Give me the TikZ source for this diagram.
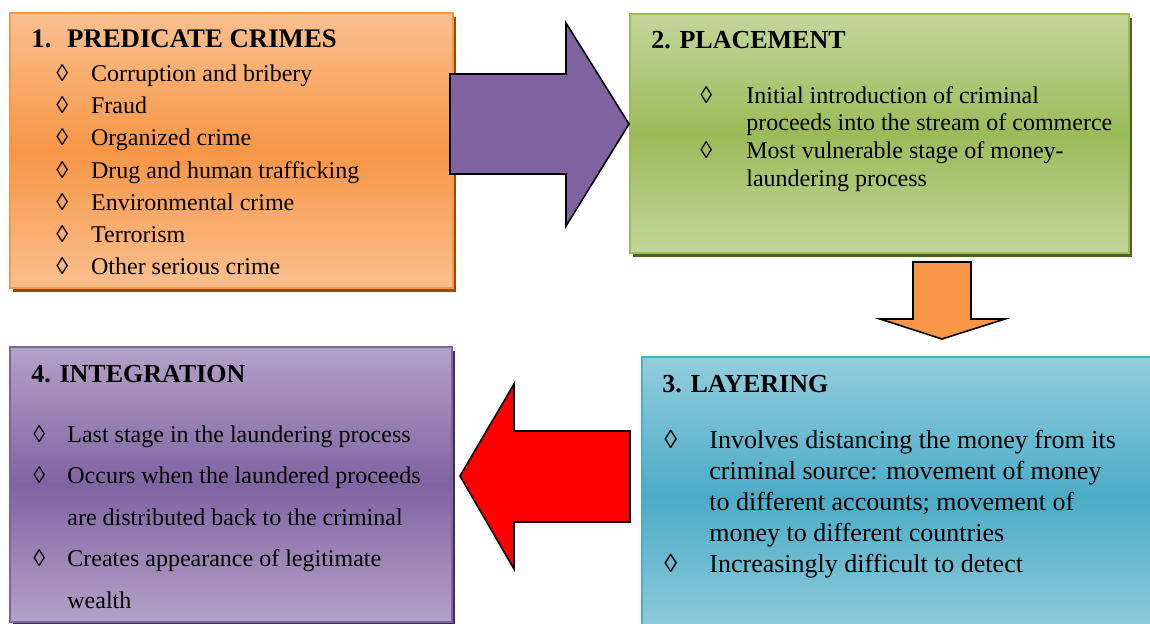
\documentclass[tikz,border=0pt]{standalone}
\usepackage{fontspec}
\setmainfont{Liberation Serif}
\usetikzlibrary{positioning}

\definecolor{orangeA}{HTML}{FAC090}
\definecolor{orangeB}{HTML}{F79646}
\definecolor{orangeD}{HTML}{984807}
\definecolor{greenA}{HTML}{C3D69B}
\definecolor{greenB}{HTML}{9BBB59}
\definecolor{greenD}{HTML}{4F6228}
\definecolor{blueA}{HTML}{93CDDD}
\definecolor{blueB}{HTML}{4BACC6}
\definecolor{blueD}{HTML}{215968}
\definecolor{purpleA}{HTML}{B3A2C7}
\definecolor{purpleB}{HTML}{8064A2}
\definecolor{purpleD}{HTML}{403152}

\begin{document}
\begin{tikzpicture}[x=0.5pt,y=-0.5pt,
	box/.style={rectangle,anchor=north west,inner sep=0pt,line width=1pt},
	head/.style={anchor=base west,inner sep=0pt,font=\fontsize{13}{15}\selectfont\bfseries},
	item/.style={anchor=base west,inner sep=0pt,font=\fontsize{12}{14}\selectfont},
	bigitem/.style={anchor=base west,inner sep=0pt,font=\fontsize{13}{15}\selectfont},
	blockarrow/.style={draw=black,line width=0.8pt,line join=miter},
	]

	\useasboundingbox (0,0) rectangle (1150,623);
	\clip (0,0) rectangle (1150,623);

	% shadows
	\fill[orangeD] (13,17) rectangle (456,292);
	\fill[greenD] (633,18) rectangle (1132,257);
	\fill[blueD] (645,361) rectangle (1170,640);
	\fill[purpleD] (13,351) rectangle (455,640);

	% boxes
	\node[box,draw=orangeB,top color=orangeA,bottom color=orangeA,middle color=orangeB,
		minimum width=221.5pt,minimum height=137.5pt] (crimes) at (9,12) {};
	\node[box,draw=greenB,top color=greenA,bottom color=greenA,middle color=greenB,
		minimum width=249.5pt,minimum height=119.5pt] (placement) at (629,13) {};
	\node[box,draw=blueB,top color=blueA,bottom color=blueA,middle color=blueB,
		minimum width=262pt,minimum height=140pt] (layering) at (641,356) {};
	\node[box,draw=purpleB,top color=purpleA,bottom color=purpleA,middle color=purpleB,
		minimum width=221pt,minimum height=137.5pt] (integration) at (9,346) {};

	% block arrows
	\draw[blockarrow,fill=purpleB] (450,74) -- (566,74) -- (566,23) -- (629,124)
		-- (566,226) -- (566,174) -- (450,174) -- cycle;
	\draw[blockarrow,fill=orangeB] (913,262) -- (971,262) -- (971,319) -- (1005,319)
		-- (942,339) -- (880,319) -- (913,319) -- cycle;
	\draw[blockarrow,fill=red] (630,431) -- (514,431) -- (514,384) -- (460,476)
		-- (514,569) -- (514,522) -- (630,522) -- cycle;

	% 1. predicate crimes
	\node[head,font=\fontsize{13.4}{15}\selectfont\bfseries] (crimestitle) at (31,47.7)
		{\makebox[17.85pt][l]{1.}PREDICATE CRIMES};
	\foreach \txt [count=\i] in {Corruption and bribery,Fraud,Organized crime,
		Drug and human trafficking,Environmental crime,Terrorism,Other serious crime} {
		\node[item] (crimedot\i) at (56,49.6+32.1*\i) {◊};
		\node[item] (crime\i) at (90.7,49.6+32.1*\i) {\txt};
	}

	% 2. placement
	\node[head] (placementtitle) at (651,48) {2. PLACEMENT};
	\node[item] (placedot1) at (700,103) {◊};
	\node[item] (place1) at (746,103) {Initial introduction of criminal};
	\node[item] (place2) at (746,130.7) {proceeds into the stream of commerce};
	\node[item] (placedot2) at (700,158.4) {◊};
	\node[item] (place3) at (746,158.4) {Most vulnerable stage of money-};
	\node[item] (place4) at (746,186.1) {laundering process};

	% 3. layering
	\node[head] (layeringtitle) at (662,392) {3. LAYERING};
	\node[bigitem] (layerdot1) at (664,448) {◊};
	\node[bigitem] (layerdot2) at (664,572) {◊};
	\foreach \txt [count=\i] in {Involves distancing the money from its,
		criminal source: movement of money,to different accounts; movement of,
		money to different countries,Increasingly difficult to detect} {
		\node[bigitem] (layer\i) at (709,417+31*\i) {\txt};
	}

	% 4. integration
	\node[head] (integrationtitle) at (31,382) {4. INTEGRATION};
	\node[item] (integdot1) at (33,442) {◊};
	\node[item] (integdot2) at (33,483.5) {◊};
	\node[item] (integdot3) at (33,566.5) {◊};
	\foreach \txt [count=\i] in {Last stage in the laundering process,
		Occurs when the laundered proceeds,are distributed back to the criminal,
		Creates appearance of legitimate,wealth} {
		\node[item] (integ\i) at (67,400.5+41.5*\i) {\txt};
	}

\end{tikzpicture}
\end{document}
